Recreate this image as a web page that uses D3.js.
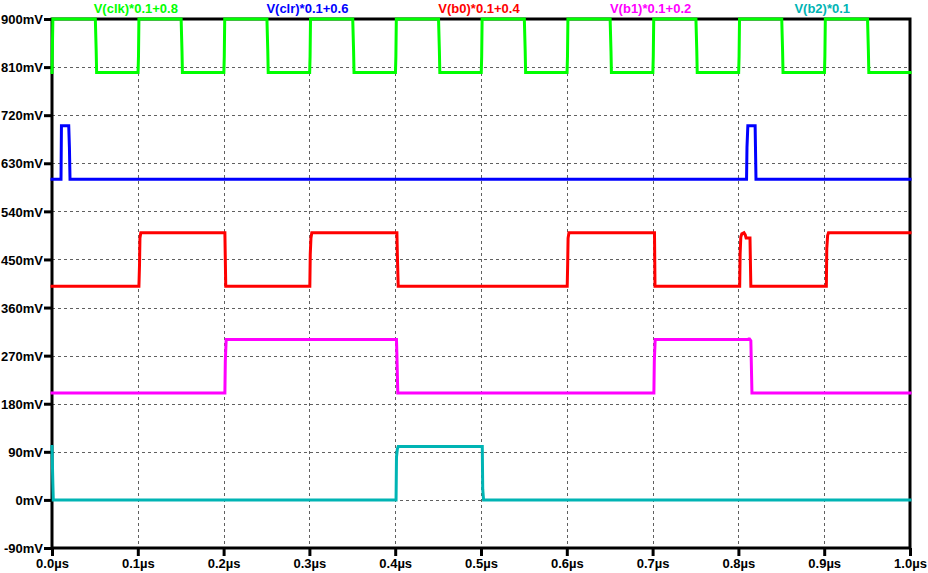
<!DOCTYPE html>
<html>
<head>
<meta charset="utf-8">
<script src="https://cdn.jsdelivr.net/npm/d3@7"></script>
<style>
html,body{margin:0;padding:0;background:#fff;}
svg{display:block;}
text{font-family:"Liberation Sans",Arial,sans-serif;font-weight:bold;}
</style>
</head>
<body>
<svg id="chart" width="928" height="573"></svg>
<script>
// ---- Data (time in µs, value in mV) ----
const xTicks = [0,0.1,0.2,0.3,0.4,0.5,0.6,0.7,0.8,0.9,1.0];
const xTickLabels = ["0.0µs","0.1µs","0.2µs","0.3µs","0.4µs","0.5µs","0.6µs","0.7µs","0.8µs","0.9µs","1.0µs"];
const yTicks = [900,810,720,630,540,450,360,270,180,90,0,-90];
const yTickLabels = ["900mV","810mV","720mV","630mV","540mV","450mV","360mV","270mV","180mV","90mV","0mV","-90mV"];

const seriesNames = ["V(clk)*0.1+0.8","V(clr)*0.1+0.6","V(b0)*0.1+0.4","V(b1)*0.1+0.2","V(b2)*0.1"];
const seriesColors = ["#00ff00","#0000ff","#ff0000","#ff00ff","#00b4b4"];

const clk = [
[0,800],[0.001,900],
[0.0505,900],[0.0515,840],[0.052,800],
[0.1003,800],[0.1008,830],[0.1013,900],
[0.1505,900],[0.1515,840],[0.152,800],
[0.2003,800],[0.2008,830],[0.2013,900],
[0.2505,900],[0.2515,840],[0.252,800],
[0.3003,800],[0.3008,830],[0.3013,900],
[0.3505,900],[0.3515,840],[0.352,800],
[0.4003,800],[0.4008,830],[0.4013,900],
[0.4505,900],[0.4515,840],[0.452,800],
[0.5003,800],[0.5008,830],[0.5013,900],
[0.5505,900],[0.5515,840],[0.552,800],
[0.6003,800],[0.6008,830],[0.6013,900],
[0.6505,900],[0.6515,840],[0.652,800],
[0.7003,800],[0.7008,830],[0.7013,900],
[0.7505,900],[0.7515,840],[0.752,800],
[0.8003,800],[0.8008,830],[0.8013,900],
[0.8505,900],[0.8515,840],[0.852,800],
[0.9003,800],[0.9008,830],[0.9013,900],
[0.9505,900],[0.9515,840],[0.952,800],
[1.0,800]
];
const clr = [
[0,600],[0.0105,600],[0.011,700],[0.0195,700],[0.0203,660],[0.021,600],
[0.8095,600],[0.81,660],[0.811,700],[0.8195,700],[0.8205,600],[1.0,600]
];
const b0 = [
[0,400],[0.1013,400],[0.102,440],[0.1025,490],[0.1035,500],
[0.2015,500],[0.2025,400],
[0.3005,400],[0.301,460],[0.3018,490],[0.3028,500],
[0.402,500],[0.4025,460],[0.4035,400],
[0.6005,400],[0.601,440],[0.6015,490],[0.6025,500],
[0.7022,500],[0.7028,400],
[0.8015,400],[0.802,460],[0.8028,492],[0.804,498],[0.8065,500],[0.808,496],[0.809,490],[0.8135,490],[0.8145,400],
[0.9025,400],[0.903,470],[0.904,495],[0.905,500],[1.0,500]
];
const b1 = [
[0,200],[0.2015,200],[0.202,260],[0.203,300],
[0.4015,300],[0.402,270],[0.403,200],
[0.7015,200],[0.702,260],[0.703,300],
[0.8115,300],[0.8125,302],[0.8145,298],[0.815,260],[0.8158,200],[1.0,200]
];
const b2 = [
[0,100],[0.001,30],[0.0015,0],
[0.401,0],[0.4015,80],[0.4025,95],[0.4035,100],
[0.5015,100],[0.502,20],[0.503,0],[1.0,0]
];
const seriesData = [clk, clr, b0, b1, b2];

// ---- Layout ----
const svg = d3.select("#chart");
const plotL = 52, plotR = 910, plotT = 19, plotB = 548;
const x = d3.scaleLinear().domain([0,1]).range([plotL,plotR]);
const y = d3.scaleLinear().domain([-90,900]).range([plotB,plotT]);

// grid
const grid = svg.append("g");
grid.selectAll("line.v").data(xTicks.slice(1,-1)).enter().append("line")
  .attr("x1",d=>Math.round(x(d))+0.5).attr("x2",d=>Math.round(x(d))+0.5)
  .attr("y1",plotT).attr("y2",plotB)
  .attr("stroke","#606060").attr("stroke-width",1).attr("stroke-dasharray","3,3");
grid.selectAll("line.h").data(yTicks.slice(1,-1)).enter().append("line")
  .attr("y1",d=>Math.round(y(d))+0.5).attr("y2",d=>Math.round(y(d))+0.5)
  .attr("x1",plotL).attr("x2",plotR)
  .attr("stroke","#606060").attr("stroke-width",1).attr("stroke-dasharray","3,3");

// frame
svg.append("rect").attr("x",plotL).attr("y",plotT).attr("width",plotR-plotL).attr("height",plotB-plotT)
  .attr("fill","none").attr("stroke","#000").attr("stroke-width",3);

// axes using d3 axis generators
const yAxis = d3.axisLeft(y).tickValues(yTicks).tickSize(8).tickPadding(1)
  .tickFormat((d,i)=>yTickLabels[i]);
const gy = svg.append("g").attr("transform",`translate(${plotL},0)`).call(yAxis);
gy.select(".domain").remove();
gy.selectAll(".tick line").attr("stroke","#000").attr("stroke-width",3);
gy.selectAll(".tick text").attr("fill","#000").style("font-size","13px")
  .style("font-family","'Liberation Sans',Arial,sans-serif").style("font-weight","bold").attr("dy","0.36em");

const xAxis = d3.axisBottom(x).tickValues(xTicks).tickSize(8).tickPadding(3)
  .tickFormat((d,i)=>xTickLabels[i]);
const gx = svg.append("g").attr("transform",`translate(0,${plotB})`).call(xAxis);
gx.select(".domain").remove();
gx.selectAll(".tick line").attr("stroke","#000").attr("stroke-width",3);
gx.selectAll(".tick text").attr("fill","#000").style("font-size","13px")
  .style("font-family","'Liberation Sans',Arial,sans-serif").style("font-weight","bold");

// traces
const line = d3.line().x(d=>x(d[0])).y(d=>y(d[1]));
svg.append("g").selectAll("path").data(seriesData).enter().append("path")
  .attr("d",line).attr("fill","none")
  .attr("stroke",(d,i)=>seriesColors[i]).attr("stroke-width",3)
  .attr("stroke-linejoin","miter").attr("stroke-miterlimit",1.5).attr("stroke-linecap","square");

// legend titles
const legendX = d3.scaleBand().domain(seriesNames).range([plotL,plotR]);
svg.append("g").selectAll("text").data(seriesNames).enter().append("text")
  .attr("x",d=>legendX(d)+legendX.bandwidth()/2-2).attr("y",13)
  .attr("text-anchor","middle").style("font-size","13px")
  .attr("fill",(d,i)=>seriesColors[i]).text(d=>d);
</script>
</body>
</html>
